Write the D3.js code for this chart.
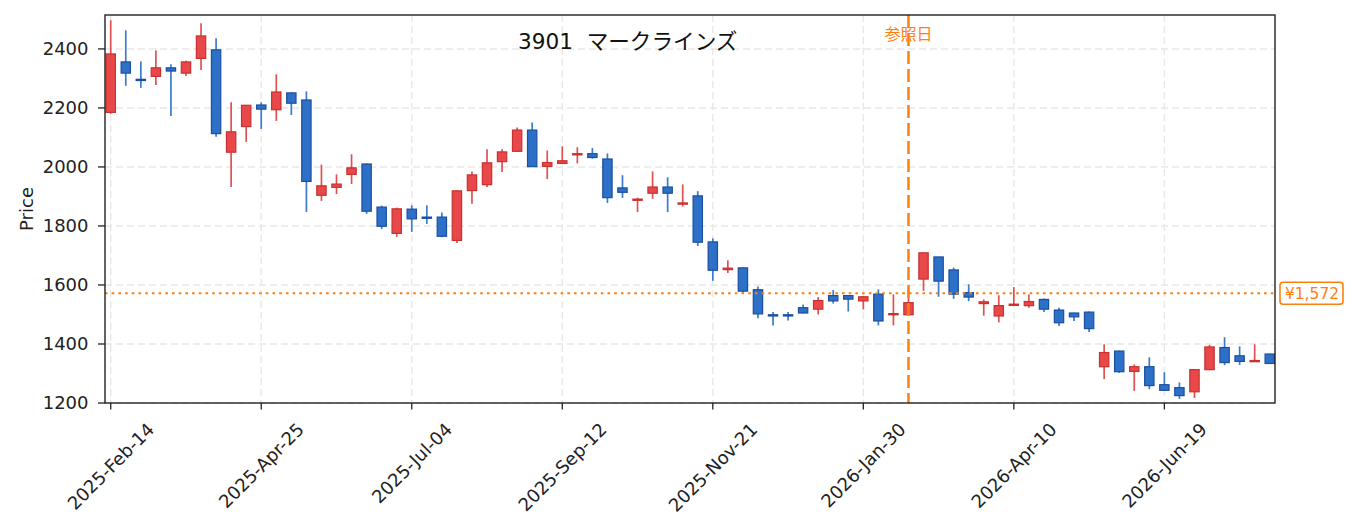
<!DOCTYPE html>
<html>
<head>
<meta charset="utf-8">
<script src="https://cdn.jsdelivr.net/npm/d3@7"></script>
<style>
  body { margin: 0; background: #fff; }
  svg { display: block; font-family: "DejaVu Sans", "Noto Sans CJK JP", sans-serif; }
</style>
</head>
<body>
<svg id="chart" width="1355" height="532"></svg>
<script>
// weekly OHLC, one candle per week starting 2025-02-14
const opens  = [2185, 2356, 2297, 2307, 2336, 2318, 2368, 2397, 2050, 2137,
                2210, 2194, 2251, 2227, 1904, 1931, 1975, 2010, 1864, 1775,
                1857, 1830, 1830, 1751, 1920, 1940, 2018, 2053, 2125, 2002,
                2012, 2042, 2045, 2027, 1929, 1888, 1911, 1932, 1874, 1902,
                1746, 1652, 1658, 1584, 1499, 1499, 1523, 1518, 1564, 1564,
                1546, 1569, 1499, 1499, 1620, 1695, 1651, 1574, 1537, 1495,
                1532, 1530, 1551, 1515, 1505, 1508, 1323, 1376, 1307, 1323,
                1262, 1252, 1238, 1313, 1388, 1360, 1342, 1366];
const highs  = [2497, 2463, 2358, 2395, 2348, 2360, 2487, 2436, 2219, 2210,
                2219, 2314, 2253, 2256, 2008, 1975, 2043, 2012, 1869, 1862,
                1870, 1870, 1846, 1920, 1985, 2060, 2060, 2134, 2151, 2056,
                2070, 2067, 2064, 2046, 1972, 1896, 1985, 1965, 1941, 1918,
                1758, 1684, 1659, 1595, 1508, 1508, 1534, 1559, 1583, 1565,
                1561, 1585, 1568, 1590, 1709, 1695, 1659, 1602, 1551, 1565,
                1593, 1568, 1554, 1523, 1506, 1510, 1399, 1377, 1331, 1355,
                1304, 1270, 1314, 1397, 1423, 1392, 1399, 1367];
const lows   = [2180, 2275, 2268, 2278, 2173, 2308, 2329, 2102, 1932, 2085,
                2129, 2156, 2176, 1847, 1885, 1908, 1942, 1841, 1790, 1763,
                1780, 1807, 1762, 1742, 1875, 1932, 1983, 2051, 2000, 1959,
                2010, 2012, 2028, 1878, 1895, 1847, 1892, 1847, 1866, 1732,
                1614, 1641, 1574, 1487, 1463, 1480, 1504, 1500, 1537, 1510,
                1517, 1463, 1463, 1498, 1580, 1560, 1553, 1545, 1496, 1473,
                1531, 1523, 1508, 1461, 1478, 1441, 1281, 1302, 1241, 1247,
                1242, 1214, 1217, 1312, 1328, 1329, 1341, 1334];
const closes = [2383, 2318, 2294, 2336, 2325, 2356, 2444, 2113, 2119, 2209,
                2196, 2254, 2216, 1951, 1936, 1942, 1997, 1850, 1799, 1858,
                1824, 1827, 1765, 1919, 1973, 2014, 2051, 2125, 2001, 2015,
                2021, 2045, 2032, 1896, 1914, 1891, 1932, 1911, 1878, 1745,
                1650, 1657, 1579, 1502, 1496, 1495, 1505, 1547, 1546, 1552,
                1560, 1478, 1503, 1540, 1709, 1613, 1569, 1559, 1543, 1530,
                1535, 1544, 1518, 1472, 1492, 1452, 1371, 1306, 1323, 1259,
                1243, 1225, 1313, 1390, 1337, 1341, 1344, 1334];

const tickIndex  = [0, 10, 20, 30, 40, 50, 60, 70];
const tickLabels = ["2025-Feb-14", "2025-Apr-25", "2025-Jul-04", "2025-Sep-12",
                    "2025-Nov-21", "2026-Jan-30", "2026-Apr-10", "2026-Jun-19"];
const priceTicks = [1200, 1400, 1600, 1800, 2000, 2200, 2400];

const title     = "3901  マークラインズ";
const refIndex  = 53;        // 参照日
const refPrice  = 1572;

const svg = d3.select("#chart");
const pL = 105, pR = 1275, pT = 15, pB = 403;

const x = d3.scaleLinear().domain([-0.38, opens.length - 0.65]).range([pL, pR]);
const y = d3.scaleLinear().domain([1200, 2515]).range([pB, pT]);
const step = x(1) - x(0);

const upFill = "#e8484a", upEdge = "#c9302f", upWick = "#e05252";
const dnFill = "#2c70c8", dnEdge = "#1c4f9f", dnWick = "#3a7bcc";
const refColor = "#ff7f0e";
const ink = "#222";

svg.append("defs").append("clipPath").attr("id", "plot")
  .append("rect").attr("x", pL).attr("y", pT)
  .attr("width", pR - pL).attr("height", pB - pT);

// grid
const grid = svg.append("g").attr("stroke", "#e8e8e8").attr("stroke-width", 1.4)
  .attr("stroke-dasharray", "7,4");
grid.selectAll(".gx").data(tickIndex).join("line")
  .attr("x1", d => x(d)).attr("x2", d => x(d)).attr("y1", pT).attr("y2", pB);
grid.selectAll(".gy").data(priceTicks).join("line")
  .attr("x1", pL).attr("x2", pR).attr("y1", d => y(d)).attr("y2", d => y(d));

// candles
const candles = opens.map((o, i) => ({ i, o, h: highs[i], l: lows[i], c: closes[i] }));
const plot = svg.append("g").attr("clip-path", "url(#plot)");
const bodyW = step * 0.62;

plot.selectAll(".wick").data(candles).join("line")
  .attr("x1", d => x(d.i)).attr("x2", d => x(d.i))
  .attr("y1", d => y(d.h)).attr("y2", d => y(d.l))
  .attr("stroke", d => d.c >= d.o ? upWick : dnWick)
  .attr("stroke-width", 1.7);

plot.selectAll(".body").data(candles).join("rect")
  .attr("x", d => x(d.i) - bodyW / 2)
  .attr("width", bodyW)
  .attr("y", d => y(Math.max(d.o, d.c)))
  .attr("height", d => Math.max(1.2, Math.abs(y(d.o) - y(d.c))))
  .attr("fill", d => d.c >= d.o ? upFill : dnFill)
  .attr("stroke", d => d.c >= d.o ? upEdge : dnEdge)
  .attr("stroke-width", 1.2);

// reference lines
plot.append("line")
  .attr("x1", pL).attr("x2", pR).attr("y1", y(refPrice)).attr("y2", y(refPrice))
  .attr("stroke", refColor).attr("stroke-width", 2).attr("stroke-dasharray", "2.6,4.1");
plot.append("line")
  .attr("x1", x(refIndex)).attr("x2", x(refIndex)).attr("y1", pT).attr("y2", pB)
  .attr("stroke", refColor).attr("stroke-width", 2.5).attr("stroke-dasharray", "13,5");

svg.append("text")
  .attr("x", x(refIndex)).attr("y", 40)
  .attr("text-anchor", "middle").attr("font-size", 16).attr("fill", refColor)
  .attr("font-family", "Noto Sans CJK JP")
  .text("参照日");

// price tag
const tag = svg.append("g").attr("transform", `translate(${pR + 5},${y(refPrice)})`);
tag.append("rect").attr("x", 0).attr("y", -11).attr("width", 63).attr("height", 22)
  .attr("rx", 3).attr("fill", "#fff").attr("stroke", refColor).attr("stroke-width", 1.6);
tag.append("text").attr("x", 32).attr("y", 0).attr("dy", "0.36em")
  .attr("text-anchor", "middle").attr("font-size", 15.5).attr("fill", refColor)
  .text("¥" + d3.format(",")(refPrice));

// frame
svg.append("rect").attr("x", pL).attr("y", pT)
  .attr("width", pR - pL).attr("height", pB - pT)
  .attr("fill", "none").attr("stroke", ink).attr("stroke-width", 1.4);

// y axis
const yAx = svg.append("g");
yAx.selectAll("line").data(priceTicks).join("line")
  .attr("x1", pL - 7).attr("x2", pL).attr("y1", d => y(d)).attr("y2", d => y(d))
  .attr("stroke", ink).attr("stroke-width", 1.3);
yAx.selectAll("text").data(priceTicks).join("text")
  .attr("x", 88.5).attr("y", d => y(d)).attr("dy", "0.36em")
  .attr("text-anchor", "end").attr("font-size", 18).attr("fill", ink)
  .text(d => d);

svg.append("text")
  .attr("transform", `translate(33,${(pT + pB) / 2}) rotate(-90)`)
  .attr("text-anchor", "middle").attr("font-size", 18).attr("fill", ink)
  .text("Price");

// x axis: labels rotated 45°, bbox centred on the tick, top aligned
const xAx = svg.append("g");
xAx.selectAll("line").data(tickIndex).join("line")
  .attr("x1", d => x(d)).attr("x2", d => x(d)).attr("y1", pB).attr("y2", pB + 6.5)
  .attr("stroke", ink).attr("stroke-width", 1.3);
xAx.selectAll("text").data(tickIndex).join("text")
  .attr("text-anchor", "middle").attr("dy", "0.36em")
  .attr("font-size", 18).attr("fill", ink)
  .text((d, k) => tickLabels[k])
  .each(function (d) {
    const len = this.getComputedTextLength();
    const half = 0.7071 * (len + 13) / 2;
    d3.select(this).attr("transform", `translate(${x(d)},${421.5 + half}) rotate(-45)`);
  });

// title
svg.append("text")
  .attr("x", 518).attr("y", 48.5)
  .attr("text-anchor", "start").attr("font-size", 21.6).attr("fill", "#111")
  .style("white-space", "pre")
  .text(title);
</script>
</body>
</html>
